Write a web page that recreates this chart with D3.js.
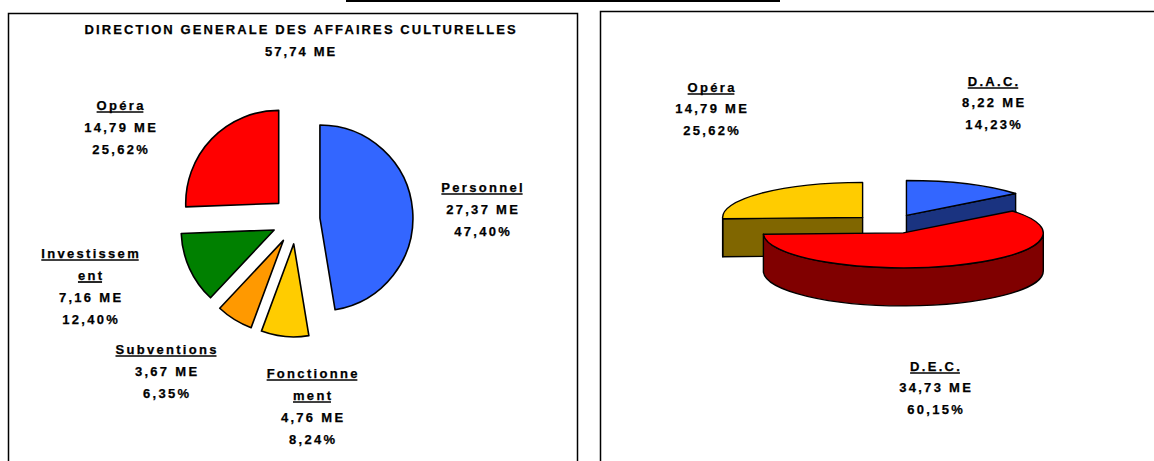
<!DOCTYPE html>
<html lang="fr">
<head>
<meta charset="UTF-8">
<title>Direction générale des affaires culturelles</title>
<script src="https://d3js.org/d3.v7.min.js"></script>
<style>
  body { margin: 0; background: #fff; }
  svg text { font-family: "Liberation Sans", Arial, sans-serif; font-weight: bold; font-size: 13px; letter-spacing: 2.3px; fill: #000; stroke: #000; stroke-width: 0.25px; }
  svg text.title { letter-spacing: 2.1px; }
</style>
</head>
<body>
<svg id="chart" width="1154" height="461"></svg>
<script>
// left chart : split of the DGAC budget
const titleLines = ["DIRECTION GENERALE DES AFFAIRES CULTURELLES", "57,74 ME"];
const leftNames = [["Personnel"], ["Fonctionne", "ment"], ["Subventions"], ["Investissem", "ent"], ["Opéra"]];
const leftValues = [27.37, 4.76, 3.67, 7.16, 14.79];
const leftAmounts = ["27,37 ME", "4,76 ME", "3,67 ME", "7,16 ME", "14,79 ME"];
const leftPercents = ["47,40%", "8,24%", "6,35%", "12,40%", "25,62%"];

// right chart : 3D pie
const rightNames = ["D.A.C.", "D.E.C.", "Opéra"];
const rightValues = [8.22, 34.73, 14.79];
const rightAmounts = ["8,22 ME", "34,73 ME", "14,79 ME"];
const rightPercents = ["14,23%", "60,15%", "25,62%"];

// colours
const leftColors = ["#3366ff", "#ffcc00", "#ff9900", "#008000", "#ff0000"];
const rightTopColors = ["#3366ff", "#ff0000", "#ffcc00"];
const rightSideColors = ["#1a3380", "#800000", "#806600"];

// label anchors (x centre, first baseline)
const leftLabelPos = [[482, 191.5], [312, 377.5], [166, 353.5], [90, 257.5], [120, 109.5]];
const rightLabelPos = [[993, 85.5], [935, 370.5], [711, 91.5]];
const spacing = 2.3;

const svg = d3.select("#chart");

// frames
svg.append("line").attr("x1", 346).attr("x2", 780).attr("y1", 1).attr("y2", 1)
    .attr("stroke", "#000").attr("stroke-width", 2);
svg.append("rect").attr("x", 8.5).attr("y", 13.5).attr("width", 569).attr("height", 480)
    .attr("fill", "none").attr("stroke", "#000").attr("stroke-width", 1.5);
svg.append("rect").attr("x", 600.5).attr("y", 11.5).attr("width", 600).attr("height", 480)
    .attr("fill", "none").attr("stroke", "#000").attr("stroke-width", 1.5);

function addLabel(g, x, y, lines, step) {
    lines.forEach((l, i) => {
        // shift by half the trailing letter-spacing so the glyphs are centred
        const t = g.append("text").attr("x", x + spacing / 2).attr("y", y + i * step)
            .attr("text-anchor", "middle").text(l.text);
        if (l.under) {
            const bb = t.node().getBBox();
            g.append("line")
                .attr("x1", bb.x).attr("x2", bb.x + bb.width - spacing)
                .attr("y1", y + i * step + 2.5).attr("y2", y + i * step + 2.5)
                .attr("stroke", "#000").attr("stroke-width", 1.7);
        }
    });
}

// ---------- left exploded pie ----------
const left = svg.append("g");
titleLines.forEach((s, i) => {
    left.append("text").attr("class", "title").attr("x", 300 + spacing / 2).attr("y", 34 + i * 22)
        .attr("text-anchor", "middle").text(s);
});

const pieL = d3.pie().sort(null).value(d => d)(leftValues);
const rL = 93, explodeL = 24, cL = [296, 220];
const arcL = d3.arc().innerRadius(0).outerRadius(rL);

left.selectAll("path.slice")
    .data(pieL)
    .join("path")
    .attr("class", "slice")
    .attr("d", arcL)
    .attr("transform", d => {
        const m = (d.startAngle + d.endAngle) / 2;
        return `translate(${cL[0] + explodeL * Math.sin(m)},${cL[1] - explodeL * Math.cos(m)})`;
    })
    .attr("fill", (d, i) => leftColors[i])
    .attr("stroke", "#000")
    .attr("stroke-width", 1.6)
    .attr("stroke-linejoin", "round");

leftNames.forEach((name, i) => {
    const lines = name.map(s => ({text: s, under: true}))
        .concat([{text: leftAmounts[i]}, {text: leftPercents[i]}]);
    addLabel(left, leftLabelPos[i][0], leftLabelPos[i][1], lines, 22);
});

// ---------- right 3D pie ----------
const right = svg.append("g");
const pieR = d3.pie().sort(null).value(d => d)(rightValues);
const cx = 890, cy = 224, rx = 140, ry = 35, depth = 38, explodeR = 38;

function pt(o, a, z) {
    return [cx + o[0] + rx * Math.sin(a), cy + o[1] - ry * Math.cos(a) + z];
}

const slices = pieR.map((d, i) => {
    const m = (d.startAngle + d.endAngle) / 2;
    const o = [explodeR * Math.sin(m), -explodeR * Math.cos(m) * ry / rx];
    return {d, i, o};
}).sort((a, b) => a.o[1] - b.o[1]);

slices.forEach(s => {
    const {d, i, o} = s;
    const a0 = d.startAngle, a1 = d.endAngle;
    const c = [cx + o[0], cy + o[1]];
    const g = right.append("g");

    // radial walls facing the viewer
    [[a0, a0 - Math.PI / 2], [a1, a1 + Math.PI / 2]].forEach(([a, n]) => {
        if (Math.cos(n) < 0) {
            const p = pt(o, a, 0), q = pt(o, a, depth);
            const path = d3.path();
            path.moveTo(c[0], c[1]);
            path.lineTo(p[0], p[1]);
            path.lineTo(q[0], q[1]);
            path.lineTo(c[0], c[1] + depth);
            path.closePath();
            g.append("path").attr("d", path.toString())
                .attr("fill", rightSideColors[i]).attr("stroke", "#000")
                .attr("stroke-width", 1.4).attr("stroke-linejoin", "round");
        }
    });

    // outer curved wall (front half only)
    const b0 = Math.max(a0, Math.PI / 2), b1 = Math.min(a1, 3 * Math.PI / 2);
    if (b1 > b0) {
        const p0 = pt(o, b0, 0), p1 = pt(o, b1, 0), q1 = pt(o, b1, depth), q0 = pt(o, b0, depth);
        const large = b1 - b0 > Math.PI ? 1 : 0;
        const dStr = `M${p0}A${rx},${ry} 0 ${large} 1 ${p1}L${q1}A${rx},${ry} 0 ${large} 0 ${q0}Z`;
        g.append("path").attr("d", dStr)
            .attr("fill", rightSideColors[i]).attr("stroke", "#000")
            .attr("stroke-width", 1.4).attr("stroke-linejoin", "round");
    }

    // top face
    const s0 = pt(o, a0, 0), s1 = pt(o, a1, 0);
    const large = a1 - a0 > Math.PI ? 1 : 0;
    g.append("path").attr("d", `M${c}L${s0}A${rx},${ry} 0 ${large} 1 ${s1}Z`)
        .attr("fill", rightTopColors[i]).attr("stroke", "#000")
        .attr("stroke-width", 1.4).attr("stroke-linejoin", "round");
});

rightNames.forEach((name, i) => {
    const lines = [{text: name, under: true}, {text: rightAmounts[i]}, {text: rightPercents[i]}];
    addLabel(right, rightLabelPos[i][0], rightLabelPos[i][1], lines, 21.5);
});
</script>
</body>
</html>
